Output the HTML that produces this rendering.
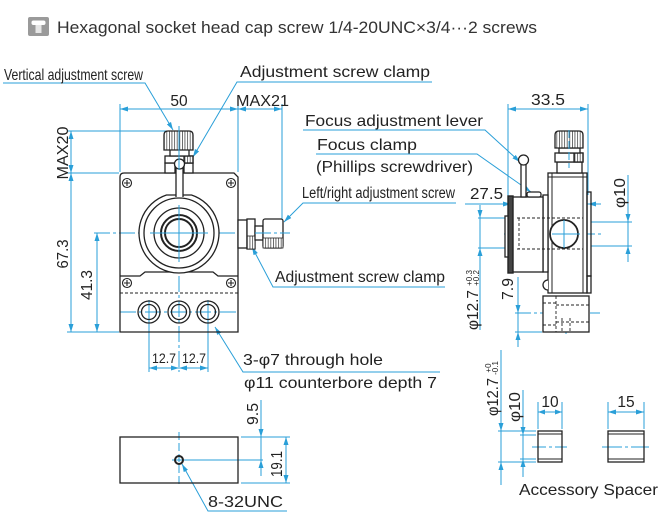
<!DOCTYPE html>
<html><head><meta charset="utf-8"><style>
html,body{margin:0;padding:0;background:#fff;}
svg{display:block;}
text{font-family:"Liberation Sans",sans-serif;fill:#222;}
</style></head><body>
<svg width="670" height="527" viewBox="0 0 670 527" xmlns="http://www.w3.org/2000/svg">
<defs>
<pattern id="kv" width="2.6" height="10" patternUnits="userSpaceOnUse"><rect width="2.6" height="10" fill="#fff"/><rect x="0" y="0" width="0.7" height="10" fill="#333"/></pattern>
<marker id="ar" markerWidth="8" markerHeight="6" refX="8" refY="3" orient="auto" markerUnits="userSpaceOnUse"><path d="M0,0.6 L8,3 L0,5.4z" fill="#2a9fd8"/></marker>
</defs>
<rect width="670" height="527" fill="#fff"/>

<!-- header -->
<rect x="28" y="17" width="21" height="19" rx="2" fill="#9a9a9a"/>
<rect x="31.5" y="20.5" width="14" height="4.5" rx="2" fill="#fff"/>
<rect x="35.5" y="25" width="6" height="8" fill="#e6e6e6"/>
<text x="57" y="33" font-size="16.5" textLength="480" lengthAdjust="spacingAndGlyphs" style="fill:#333">Hexagonal socket head cap screw 1/4-20UNC×3/4···2 screws</text>

<!-- ===== BLUE dimension / leader lines ===== -->
<g stroke="#2a9fd8" stroke-width="1" fill="none">
 <line x1="120" y1="104" x2="120" y2="172"/>
 <line x1="238" y1="104" x2="238" y2="172"/>
 <line x1="282" y1="104" x2="282" y2="219"/>
 <line x1="120" y1="109" x2="282" y2="109"/>
 <line x1="67" y1="131" x2="176" y2="131"/>
 <line x1="67" y1="173" x2="119" y2="173"/>
 <line x1="67" y1="332" x2="119" y2="332"/>
 <line x1="71" y1="131" x2="71" y2="332"/>
 <line x1="97" y1="233" x2="97" y2="332"/>
 <line x1="94" y1="233" x2="290" y2="233" stroke-dasharray="16,3,3,3"/>
 <line x1="179" y1="126" x2="179" y2="372" stroke-dasharray="16,3,3,3"/>
 <line x1="149" y1="300" x2="149" y2="372"/>
 <line x1="208" y1="300" x2="208" y2="372"/>
 <line x1="120" y1="312" x2="238" y2="312" stroke-dasharray="16,3,3,3"/>
 <line x1="149" y1="368" x2="208" y2="368"/>
 <polyline points="3,83 145,83 173,130" marker-end="url(#ar)"/>
 <polyline points="432,82 237,82 193,157" marker-end="url(#ar)"/>
 <polyline points="456,203 303,203 284,222" marker-end="url(#ar)"/>
 <polyline points="445,287 273,287 252,247" marker-end="url(#ar)"/>
 <polyline points="440,372 243,372 215,327" marker-end="url(#ar)"/>
 <polyline points="287,511 208,511 182,464" marker-end="url(#ar)"/>
 <polyline points="303,130 485,130 520,162" marker-end="url(#ar)"/>
 <polyline points="316,154 477,154 531,192" marker-end="url(#ar)"/>
 <line x1="508" y1="104" x2="508" y2="203"/>
 <line x1="588" y1="104" x2="588" y2="195"/>
 <line x1="508" y1="109" x2="588" y2="109"/>
 <line x1="465" y1="204" x2="601" y2="204"/>
 <line x1="628" y1="175" x2="628" y2="262"/>
 <line x1="591" y1="222" x2="632" y2="222"/>
 <line x1="591" y1="246" x2="632" y2="246"/>
 <line x1="480" y1="205" x2="480" y2="330"/>
 <line x1="478" y1="218" x2="510" y2="218"/>
 <line x1="478" y1="248" x2="510" y2="248"/>
 <line x1="504" y1="234" x2="601" y2="234" stroke-dasharray="16,3,3,3"/>
 <line x1="518" y1="277" x2="518" y2="347"/>
 <line x1="515" y1="313" x2="600" y2="313" stroke-dasharray="16,3,3,3"/>
 <line x1="515" y1="332" x2="542" y2="332"/>
 <line x1="566" y1="302" x2="566" y2="334"/>
 <line x1="179" y1="432" x2="179" y2="487" stroke-dasharray="8,3"/>
 <line x1="172" y1="460" x2="263" y2="460"/>
 <line x1="241" y1="437" x2="290" y2="437"/>
 <line x1="241" y1="483" x2="290" y2="483"/>
 <line x1="261" y1="400" x2="261" y2="476"/>
 <line x1="286" y1="437" x2="286" y2="483"/>
 <line x1="532" y1="447" x2="567" y2="447" stroke-dasharray="14,3,3,3"/>
 <line x1="602" y1="447" x2="649" y2="447" stroke-dasharray="20,3,3,3"/>
 <line x1="538" y1="402" x2="538" y2="429"/>
 <line x1="562" y1="402" x2="562" y2="429"/>
 <line x1="538" y1="412" x2="562" y2="412"/>
 <line x1="608" y1="402" x2="608" y2="429"/>
 <line x1="644" y1="402" x2="644" y2="429"/>
 <line x1="608" y1="412" x2="644" y2="412"/>
 <line x1="501" y1="350" x2="501" y2="485"/>
 <line x1="498" y1="431" x2="536" y2="431"/>
 <line x1="498" y1="462" x2="536" y2="462"/>
 <line x1="523" y1="390" x2="523" y2="477"/>
 <line x1="520" y1="435" x2="536" y2="435"/>
 <line x1="520" y1="459" x2="536" y2="459"/>
</g>

<!-- arrowheads -->
<g fill="#2a9fd8">
 <polygon points="128,106.5 128,111.5 120,109"/>
 <polygon points="230,106.5 230,111.5 238,109"/>
 <polygon points="246,106.5 246,111.5 238,109"/>
 <polygon points="274,106.5 274,111.5 282,109"/>
 <polygon points="68.5,139 73.5,139 71,131"/>
 <polygon points="68.5,165 73.5,165 71,173"/>
 <polygon points="68.5,181 73.5,181 71,173"/>
 <polygon points="68.5,324 73.5,324 71,332"/>
 <polygon points="94.5,241 99.5,241 97,233"/>
 <polygon points="94.5,324 99.5,324 97,332"/>
 <polygon points="157,365.5 157,370.5 149,368"/>
 <polygon points="171,365.5 171,370.5 179,368"/>
 <polygon points="187,365.5 187,370.5 179,368"/>
 <polygon points="200,365.5 200,370.5 208,368"/>
 <polygon points="516,106.5 516,111.5 508,109"/>
 <polygon points="580,106.5 580,111.5 588,109"/>
 <polygon points="503,201.5 503,206.5 511,204"/>
 <polygon points="596,201.5 596,206.5 588,204"/>
 <polygon points="625.5,214 630.5,214 628,222"/>
 <polygon points="625.5,254 630.5,254 628,246"/>
 <polygon points="477.5,210 482.5,210 480,218"/>
 <polygon points="477.5,256 482.5,256 480,248"/>
 <polygon points="515.5,305 520.5,305 518,313"/>
 <polygon points="515.5,340 520.5,340 518,332"/>
 <polygon points="258.5,429 263.5,429 261,437"/>
 <polygon points="258.5,468 263.5,468 261,460"/>
 <polygon points="283.5,445 288.5,445 286,437"/>
 <polygon points="283.5,475 288.5,475 286,483"/>
 <polygon points="545,409.5 545,414.5 538,412"/>
 <polygon points="555,409.5 555,414.5 562,412"/>
 <polygon points="616,409.5 616,414.5 608,412"/>
 <polygon points="636,409.5 636,414.5 644,412"/>
 <polygon points="498.5,423 503.5,423 501,431"/>
 <polygon points="498.5,470 503.5,470 501,462"/>
 <polygon points="520.5,427 525.5,427 523,435"/>
 <polygon points="520.5,467 525.5,467 523,459"/>
</g>

<!-- ===== BLACK drawing ===== -->
<g stroke="#222" stroke-width="1.3" fill="none">
 <path d="M124,173 H234 L238,177 V332 H120 V177 Q120,173 124,173 Z"/>
 <path d="M120,276 H140 L145,272 H213 L218,276 H238"/>
 <line x1="120" y1="293" x2="238" y2="293" stroke-width="0.9" stroke-dasharray="3,2"/>
 <path d="M166.5,195 H191.5 A40,40 0 1 1 166.5,195 Z" fill="#fff"/>
 <circle cx="179" cy="233" r="35"/>
 <circle cx="179" cy="233" r="25"/>
 <circle cx="179" cy="233" r="18" stroke-width="2"/>
 <circle cx="179" cy="233" r="14" stroke-width="2"/>
 <rect x="176" y="165" width="7" height="32" fill="#fff" stroke="none"/>
 <line x1="176" y1="166" x2="176" y2="197"/>
 <line x1="183" y1="166" x2="183" y2="197"/>
 <rect x="165" y="163" width="10" height="10" fill="#fff"/>
 <rect x="184" y="163" width="9" height="10" fill="#fff"/>
 <rect x="165" y="156" width="28" height="7" fill="#fff"/>
 <rect x="184" y="156" width="9" height="7" fill="url(#kv)"/>
 <rect x="170" y="149" width="19" height="7" fill="#fff"/>
 <path d="M164,150 V135 Q164,131 168,131 H189 Q193,131 193,135 V150 Z" fill="url(#kv)"/>
 <circle cx="179.5" cy="164" r="5" fill="#fff"/>
 <g stroke-width="1.1">
  <circle cx="127" cy="183" r="4.5"/><path d="M124,183 H130 M127,180 V186"/>
  <circle cx="231" cy="183" r="4.5"/><path d="M228,183 H234 M231,180 V186"/>
  <circle cx="127" cy="283" r="4.5"/><path d="M124,283 H130 M127,280 V286"/>
  <circle cx="231" cy="283" r="4.5"/><path d="M228,283 H234 M231,280 V286"/>
 </g>
 <circle cx="149" cy="312" r="11"/><circle cx="149" cy="312" r="7.5"/>
 <circle cx="179" cy="312" r="11"/><circle cx="179" cy="312" r="7.5"/>
 <circle cx="208" cy="312" r="11"/><circle cx="208" cy="312" r="7.5"/>
 <!-- side screw front -->
 <rect x="238" y="220" width="9" height="28" fill="#fff"/>
 <rect x="247" y="219" width="8" height="30" fill="#fff"/>
 <rect x="247" y="236" width="8" height="13" fill="url(#kv)" stroke-width="0.8"/>
 <rect x="255" y="226" width="8" height="14" fill="#fff"/>
 <rect x="263" y="219" width="20" height="29" rx="2" fill="#fff"/>
 <rect x="263" y="238" width="20" height="10" fill="url(#kv)" stroke-width="0.8"/>

 <rect x="120" y="437" width="118" height="46"/>
 <circle cx="179" cy="460" r="4" stroke-width="2"/>

 <rect x="538" y="431" width="24" height="31"/>
 <line x1="538" y1="434" x2="562" y2="434" stroke-width="0.9"/>
 <line x1="538" y1="459" x2="562" y2="459" stroke-width="0.9"/>
 <rect x="608" y="431" width="36" height="31"/>
 <line x1="608" y1="434" x2="644" y2="434" stroke-width="0.9"/>
 <line x1="608" y1="459" x2="644" y2="459" stroke-width="0.9"/>

 <!-- side view -->
 <rect x="548" y="173" width="39" height="120" fill="#fff"/>
 <line x1="552" y1="173" x2="552" y2="293" stroke-width="1"/>
 <line x1="583" y1="173" x2="583" y2="293" stroke-width="1"/>
 <line x1="548" y1="177" x2="587" y2="177" stroke-width="1"/>
 <rect x="587" y="192" width="4" height="84"/>
 <rect x="587" y="276" width="4" height="17"/>
 <rect x="543" y="195" width="5" height="77" fill="#fff"/>
 <rect x="512" y="197" width="31" height="75" fill="#fff"/>
 <rect x="508" y="196" width="5" height="77" fill="#444" stroke-width="1.4"/>
 <rect x="505" y="216" width="3" height="41" fill="#fff"/>
 <line x1="517" y1="218" x2="583" y2="218" stroke-width="0.9" stroke-dasharray="3,2"/>
 <line x1="517" y1="249" x2="583" y2="249" stroke-width="0.9" stroke-dasharray="3,2"/>
 <line x1="519" y1="218" x2="519" y2="249" stroke-width="0.9" stroke-dasharray="3,2"/>
 <circle cx="564" cy="234" r="14" stroke-width="1.8" fill="#fff"/>
 <rect x="521" y="163" width="5" height="34" fill="#fff"/>
 <circle cx="523.5" cy="160" r="5" fill="#fff"/>
 <rect x="527" y="192" width="14" height="5" rx="2" fill="#fff"/>
 <rect x="557" y="162" width="25" height="11" fill="#fff"/>
 <rect x="555" y="153" width="28" height="9" fill="#fff"/>
 <rect x="574" y="153" width="9" height="9" fill="url(#kv)"/>
 <rect x="559" y="148" width="21" height="5" fill="#fff"/>
 <path d="M555,148 V135 Q555,131 559,131 H579 Q583,131 583,135 V148 Z" fill="url(#kv)"/>
 <path d="M548,280 A5,5 0 0 0 548,290" fill="#fff"/>
 <rect x="543" y="296" width="46" height="36" fill="#fff"/>
 <g stroke-width="0.9" stroke-dasharray="3,2">
  <line x1="543" y1="303" x2="556" y2="303"/>
  <line x1="556" y1="296" x2="556" y2="332"/>
  <line x1="556" y1="305" x2="589" y2="305"/>
  <line x1="556" y1="322" x2="589" y2="322"/>
  <line x1="543" y1="325" x2="556" y2="325"/>
  <line x1="562" y1="318" x2="562" y2="332"/>
  <line x1="570" y1="318" x2="570" y2="332"/>
 </g>
</g>
<line x1="552" y1="234" x2="580" y2="234" stroke="#2a9fd8" stroke-width="1"/>
<line x1="564" y1="220" x2="564" y2="248" stroke="#2a9fd8" stroke-width="1"/>
<line x1="179" y1="205" x2="179" y2="262" stroke="#2a9fd8" stroke-width="1"/>
<line x1="150" y1="233" x2="208" y2="233" stroke="#2a9fd8" stroke-width="1"/>
<line x1="569" y1="130" x2="569" y2="168" stroke="#2a9fd8" stroke-width="1" stroke-dasharray="8,3"/>
<line x1="179" y1="128" x2="179" y2="170" stroke="#2a9fd8" stroke-width="1"/>
<line x1="255" y1="233" x2="290" y2="233" stroke="#2a9fd8" stroke-width="1" stroke-dasharray="16,3,3,3"/>

<!-- ===== TEXT ===== -->
<text x="4" y="80" font-size="16" textLength="139" lengthAdjust="spacingAndGlyphs">Vertical adjustment screw</text>
<text x="240" y="77" font-size="16" textLength="190" lengthAdjust="spacingAndGlyphs">Adjustment screw clamp</text>
<text x="179" y="106" font-size="15.5" text-anchor="middle">50</text>
<text x="236" y="106" font-size="15.5" textLength="53" lengthAdjust="spacingAndGlyphs">MAX21</text>
<text transform="translate(68,153) rotate(-90)" font-size="15.5" text-anchor="middle" textLength="53" lengthAdjust="spacingAndGlyphs">MAX20</text>
<text transform="translate(68,254) rotate(-90)" font-size="15.5" text-anchor="middle" textLength="29" lengthAdjust="spacingAndGlyphs">67.3</text>
<text transform="translate(92,285) rotate(-90)" font-size="15.5" text-anchor="middle" textLength="30" lengthAdjust="spacingAndGlyphs">41.3</text>
<text x="305" y="126" font-size="16" textLength="178" lengthAdjust="spacingAndGlyphs">Focus adjustment lever</text>
<text x="317" y="150" font-size="16" textLength="100" lengthAdjust="spacingAndGlyphs">Focus clamp</text>
<text x="316" y="172" font-size="16" textLength="157" lengthAdjust="spacingAndGlyphs">(Phillips screwdriver)</text>
<text x="302" y="198" font-size="15.5" textLength="153" lengthAdjust="spacingAndGlyphs">Left/right adjustment screw</text>
<text x="470" y="199" font-size="16" textLength="33" lengthAdjust="spacingAndGlyphs">27.5</text>
<text x="531" y="105" font-size="16" textLength="34" lengthAdjust="spacingAndGlyphs">33.5</text>
<text transform="translate(625,193) rotate(-90)" font-size="16" text-anchor="middle" textLength="30" lengthAdjust="spacingAndGlyphs">φ10</text>
<text x="275" y="282" font-size="16" textLength="170" lengthAdjust="spacingAndGlyphs">Adjustment screw clamp</text>
<text transform="translate(478,310) rotate(-90)" font-size="15.5" text-anchor="middle" textLength="40" lengthAdjust="spacingAndGlyphs">φ12.7</text>
<text transform="translate(472,278) rotate(-90)" font-size="8" text-anchor="middle">+0.3</text>
<text transform="translate(479,278) rotate(-90)" font-size="8" text-anchor="middle">+0.2</text>
<text transform="translate(513,289) rotate(-90)" font-size="15.5" text-anchor="middle" textLength="22" lengthAdjust="spacingAndGlyphs">7.9</text>
<text x="152" y="363" font-size="14" textLength="24" lengthAdjust="spacingAndGlyphs">12.7</text>
<text x="182" y="363" font-size="14" textLength="24" lengthAdjust="spacingAndGlyphs">12.7</text>
<text x="243" y="365" font-size="16" textLength="140" lengthAdjust="spacingAndGlyphs">3-φ7 through hole</text>
<text x="244" y="388" font-size="16" textLength="193" lengthAdjust="spacingAndGlyphs">φ11 counterbore depth 7</text>
<text transform="translate(258,414) rotate(-90)" font-size="15.5" text-anchor="middle" textLength="22" lengthAdjust="spacingAndGlyphs">9.5</text>
<text transform="translate(282,464) rotate(-90)" font-size="15.5" text-anchor="middle" textLength="26" lengthAdjust="spacingAndGlyphs">19.1</text>
<text x="208" y="507" font-size="16" textLength="75" lengthAdjust="spacingAndGlyphs">8-32UNC</text>
<text transform="translate(498,397) rotate(-90)" font-size="15.5" text-anchor="middle" textLength="38" lengthAdjust="spacingAndGlyphs">φ12.7</text>
<text transform="translate(491,368) rotate(-90)" font-size="8" text-anchor="middle">+0</text>
<text transform="translate(498,368) rotate(-90)" font-size="8" text-anchor="middle">-0.1</text>
<text transform="translate(520,407) rotate(-90)" font-size="15.5" text-anchor="middle" textLength="30" lengthAdjust="spacingAndGlyphs">φ10</text>
<text x="550" y="407" font-size="15.5" text-anchor="middle">10</text>
<text x="626" y="407" font-size="15.5" text-anchor="middle">15</text>
<text x="519" y="495" font-size="16" textLength="139" lengthAdjust="spacingAndGlyphs">Accessory Spacer</text>
</svg>
</body></html>
